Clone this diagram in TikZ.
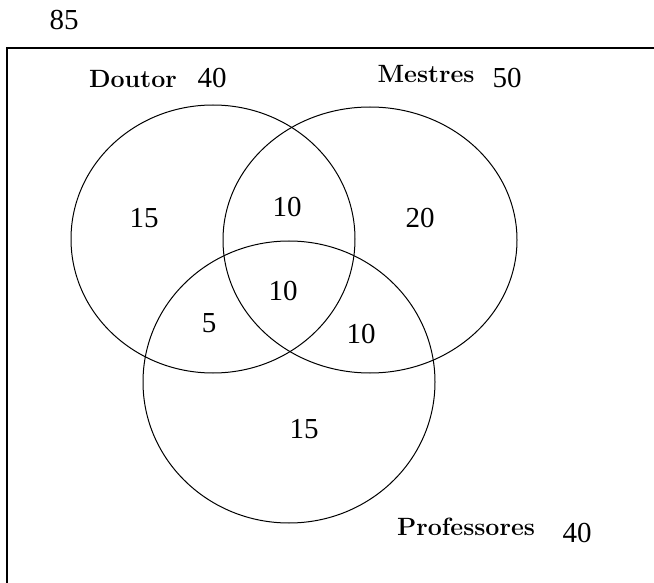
\documentclass[tikz,border=0pt]{standalone}
\usepackage{fontspec}
\newfontfamily\numfont{Liberation Serif}

\tikzset{
	num/.style={font=\numfont\fontsize{29}{34}\selectfont, inner sep=0pt, anchor=base},
	setname/.style={font=\bfseries\fontsize{25}{30}\selectfont, inner sep=0pt, anchor=base},
	setline/.style={line width=1pt}
}

\begin{document}
\begin{tikzpicture}[x=1pt,y=1pt,yscale=-1,xscale=1]
		\useasboundingbox (0,0) rectangle (654,583);
		
		%Shape: Rectangle [universe]
		\draw [line width=1.5pt] (7,48) -- (660,48) -- (660,590) -- (7,590) -- cycle ;
		%Shape: Ellipse [Doutor]
		\draw [setline] (213,239) ellipse [x radius=142, y radius=134] ;
		%Shape: Ellipse [Mestres]
		\draw [setline] (370,240) ellipse [x radius=147, y radius=133] ;
		%Shape: Ellipse [Professores]
		\draw [setline] (289,382) ellipse [x radius=146, y radius=141] ;
		
		% Text Node
		\node [num] (total) at (64,30) {85};
		% Text Node
		\node [setname] (doutor) at (133,88) {Doutor};
		% Text Node
		\node [num] (ndoutor) at (212,88) {40};
		% Text Node
		\node [setname] (mestres) at (426,83) {Mestres};
		% Text Node
		\node [num] (nmestres) at (507,88) {50};
		% Text Node
		\node [setname] (prof) at (466,535) {Professores};
		% Text Node
		\node [num] (nprof) at (577,542) {40};
		
		% Text Node
		\node [num] (donly) at (144,228) {15};
		% Text Node
		\node [num] (dm) at (287,217) {10};
		% Text Node
		\node [num] (monly) at (420,228) {20};
		% Text Node
		\node [num] (dmp) at (283,300) {10};
		% Text Node
		\node [num] (dp) at (209,332) {5};
		% Text Node
		\node [num] (mp) at (361,343) {10};
		% Text Node
		\node [num] (ponly) at (304,438) {15};
		
	\end{tikzpicture}
\end{document}
